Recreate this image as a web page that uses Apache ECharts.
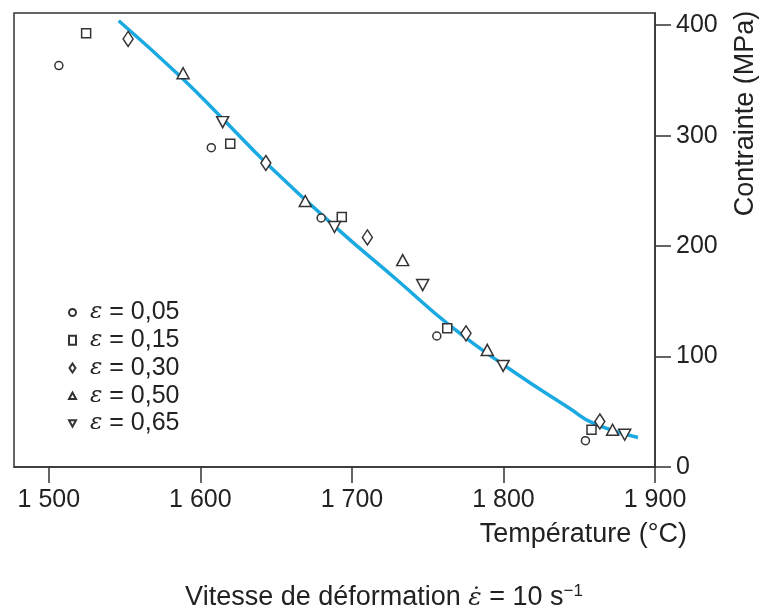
<!DOCTYPE html>
<html>
<head>
<meta charset="utf-8">
<script src="https://cdn.jsdelivr.net/npm/echarts@6/dist/echarts.min.js"></script>
<style>
html,body{margin:0;padding:0;background:#fff;}
#chart{width:762px;height:613px;}
</style>
</head>
<body>
<div id="chart"></div>
<script>
// ---- data ----
const xTicks = [1500, 1600, 1700, 1800, 1900];
const yTicks = [0, 100, 200, 300, 400];
const seriesNames = ['ε = 0,05', 'ε = 0,15', 'ε = 0,30', 'ε = 0,50', 'ε = 0,65'];

const eps005T = [1506.6, 1607.2, 1679.7, 1756.0, 1854.1];
const eps005S = [363.4, 289.1, 225.5, 118.6, 23.8];

const eps015T = [1524.6, 1619.7, 1693.3, 1762.9, 1858.1];
const eps015S = [392.6, 292.7, 226.4, 125.6, 33.7];

const eps030T = [1552.3, 1643.2, 1710.2, 1775.3, 1863.6];
const eps030S = [387.5, 275.2, 207.8, 121.0, 41.2];

const eps050T = [1588.6, 1669.2, 1733.5, 1789.3, 1872.0];
const eps050S = [356.5, 240.8, 187.3, 106.0, 33.7];

const eps065T = [1614.7, 1688.5, 1746.7, 1799.8, 1880.0];
const eps065S = [312.2, 217.3, 164.7, 91.5, 29.2];

const curveT = [1546.1, 1586.8, 1614.7, 1643.9, 1690.1, 1729.6, 1764.7, 1804.3, 1843.8, 1859.2, 1888.8];
const curveS = [404.0, 353.5, 315.3, 274.6, 216.0, 169.5, 128.0, 88.5, 53.0, 39.7, 26.7];

// ---- helpers ----
const pair = (xs, ys) => xs.map((x, i) => [x, ys[i]]);
const FONT = '"Liberation Sans", Arial, sans-serif';
const INK = '#222';
const downTri = 'path://M0,0L12,0L6,11Z';
const upTri = 'path://M6,0L12,11L0,11Z';
const diamondPath = 'path://M5,0L10,7.5L5,15L0,7.5Z';

const symbols = ['circle', 'rect', diamondPath, upTri, downTri];
const sizes = [8, 9, [10, 15], [12, 11], [12, 11]];
const legendIcons = ['circle', 'rect', diamondPath, upTri, downTri];
const dataSets = [
  pair(eps005T, eps005S), pair(eps015T, eps015S), pair(eps030T, eps030S),
  pair(eps050T, eps050S), pair(eps065T, eps065S)
];

const scatterSeries = seriesNames.map((name, i) => ({
  name: name,
  type: 'scatter',
  data: dataSets[i],
  symbol: symbols[i],
  symbolSize: sizes[i],
  z: 5,
  itemStyle: { color: '#fff', borderColor: '#333', borderWidth: 1.5, opacity: 1 }
}));

const chart = echarts.init(document.getElementById('chart'), null, { renderer: 'canvas' });
chart.setOption({
  animation: false,
  backgroundColor: '#fff',
  grid: {
    left: 14, top: 13, right: 107, bottom: 146,
    show: true, borderColor: '#333', borderWidth: 1.5, containLabel: false
  },
  xAxis: {
    type: 'value',
    min: 1477, max: 1900,
    axisLine: { show: true, lineStyle: { color: '#333', width: 1.5 } },
    splitLine: { show: false },
    axisTick: { show: true, inside: false, length: 16, lineStyle: { color: '#333', width: 1.5 }, customValues: xTicks },
    axisLabel: {
      customValues: xTicks,
      margin: 21,
      color: INK, fontSize: 25, fontFamily: FONT,
      formatter: v => String(v).replace(/\B(?=(\d{3})+$)/, ' ')
    }
  },
  yAxis: {
    type: 'value',
    position: 'right',
    min: 0, max: 411,
    axisLine: { show: true, lineStyle: { color: '#333', width: 1.5 } },
    splitLine: { show: false },
    axisTick: { show: true, inside: false, length: 16, lineStyle: { color: '#333', width: 1.5 }, customValues: yTicks },
    axisLabel: {
      customValues: yTicks,
      margin: 21,
      color: INK, fontSize: 25, fontFamily: FONT
    }
  },
  legend: {
    orient: 'vertical',
    left: 68, top: 300,
    padding: 0,
    itemGap: 2.75,
    itemWidth: 7, itemHeight: 9,
    selectedMode: false,
    data: seriesNames.map((n, i) => ({ name: n, icon: legendIcons[i] })),
    formatter: name => '{e|ε}{t|' + name.slice(1) + '}',
    textStyle: {
      color: INK, fontSize: 25, fontFamily: FONT, lineHeight: 24,
      rich: {
        e: { fontFamily: '"DejaVu Serif", serif', fontStyle: 'italic', fontSize: 23, color: INK, padding: [0, 0, 0, 9], lineHeight: 24 },
        t: { fontFamily: FONT, fontSize: 25, color: INK, lineHeight: 24 }
      }
    }
  },
  graphic: [
    {
      type: 'text', x: 687, y: 535,
      style: { text: 'Température (°C)', font: '27px ' + FONT, fill: INK, align: 'right', verticalAlign: 'middle' }
    },
    {
      type: 'text', x: 746, y: 113.5, rotation: Math.PI / 2,
      style: { text: 'Contrainte (MPa)', font: '27px ' + FONT, fill: INK, align: 'center', verticalAlign: 'middle' }
    },
    {
      type: 'text', x: 384, y: 598,
      style: {
        text: '{t|Vitesse de déformation }{e|ε̇}{t| = 10 s}{s|−1}',
        font: '27px ' + FONT,
        fill: INK,
        align: 'center', verticalAlign: 'middle',
        rich: {
          t: { fontFamily: FONT, fontSize: 27, fill: INK, lineHeight: 30 },
          e: { fontFamily: '"DejaVu Serif", serif', fontStyle: 'italic', fontSize: 25, fill: INK, lineHeight: 30 },
          s: { fontFamily: FONT, fontSize: 17, fill: INK, verticalAlign: 'top', lineHeight: 30 }
        }
      }
    }
  ],
  series: [
    {
      name: 'courbe',
      type: 'line',
      data: pair(curveT, curveS),
      smooth: true,
      symbol: 'none',
      z: 2,
      lineStyle: { color: '#1ba9e1', width: 3.5 }
    }
  ].concat(scatterSeries)
});
</script>
</body>
</html>
